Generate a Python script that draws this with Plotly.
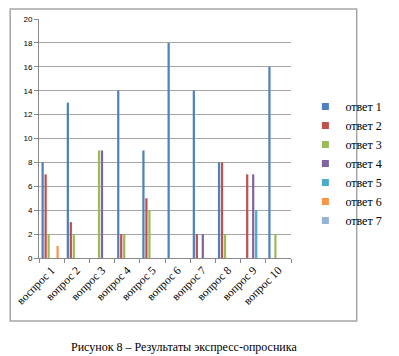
import plotly.graph_objects as go

categories = ["воспрос 1", "вопрос 2", "вопрос 3", "вопрос 4", "вопрос 5",
              "вопрос 6", "вопрос 7", "вопрос 8", "вопрос 9", "вопрос 10"]
series_names = ["ответ 1", "ответ 2", "ответ 3", "ответ 4", "ответ 5", "ответ 6", "ответ 7"]
otvet1 = [8, 13, 0, 14, 9, 18, 14, 8, 0, 16]
otvet2 = [7, 3, 0, 2, 5, 0, 2, 8, 7, 0]
otvet3 = [2, 2, 9, 2, 4, 0, 0, 2, 0, 2]
otvet4 = [0, 0, 9, 0, 0, 0, 2, 0, 7, 0]
otvet5 = [0, 0, 0, 0, 0, 0, 0, 0, 4, 0]
otvet6 = [1, 0, 0, 0, 0, 0, 0, 0, 0, 0]
otvet7 = [0, 0, 0, 0, 0, 0, 0, 0, 0, 0]
series_values = [otvet1, otvet2, otvet3, otvet4, otvet5, otvet6, otvet7]
colors = ["#4F81BD", "#C0504D", "#9BBB59", "#8064A2", "#4BACC6", "#F79646", "#95B3D7"]
y_ticks = [0, 2, 4, 6, 8, 10, 12, 14, 16, 18, 20]

fig = go.Figure()
for name, vals, col in zip(series_names, series_values, colors):
    fig.add_trace(go.Bar(x=categories, y=vals, name=name, marker_color=col,
                         marker_line_width=0, showlegend=False))
for name, col in zip(series_names, colors):
    fig.add_trace(go.Scatter(x=[None], y=[None], mode="markers", name=name,
                             marker=dict(symbol="square", size=7, color=col)))

W, H = 399, 356
L, R, T, B = 39, 80, 19, 98
pw, ph = W - L - R, H - T - B

def px(x):
    return (x - L) / pw

def py(y):
    return (H - B - y) / ph

fig.update_layout(
    width=W, height=H,
    margin=dict(l=L, r=R, t=T, b=B),
    paper_bgcolor="white", plot_bgcolor="white",
    barmode="group", bargap=0.17, bargroupgap=0.25,
    font=dict(family="Liberation Serif", color="black"),
    legend=dict(x=px(335), y=py(92), xanchor="left", yanchor="top",
                font=dict(family="Liberation Serif", size=12, color="black"),
                itemwidth=30, tracegroupgap=0, bgcolor="rgba(0,0,0,0)"),
    xaxis=dict(type="category", showgrid=False, showline=True, linecolor="#898989",
               linewidth=1, ticks="outside", tickson="boundaries", ticklen=4,
               tickcolor="#898989", tickangle=-45, automargin=False,
               tickfont=dict(family="Liberation Serif", size=11.5, color="black")),
    yaxis=dict(range=[0, 20], tickvals=y_ticks, showgrid=True, gridcolor="#A6A6A6",
               gridwidth=1, showline=True, linecolor="#898989", linewidth=1,
               ticks="outside", ticklen=4, tickcolor="#898989", zeroline=False,
               automargin=False,
               tickfont=dict(family="Liberation Sans", size=8, color="black")),
    shapes=[dict(type="rect", xref="paper", yref="paper",
                 x0=px(7), x1=px(392), y0=py(321), y1=py(9),
                 line=dict(color="#A6A6A6", width=1.5), fillcolor="rgba(0,0,0,0)",
                 layer="below")],
    annotations=[dict(text="Рисунок 8 – Результаты экспресс-опросника",
                      xref="paper", yref="paper", x=px(200), y=py(347),
                      xanchor="center", yanchor="middle", showarrow=False,
                      font=dict(family="Liberation Serif", size=12, color="black"))],
)

fig.write_html("out.html", config={"displayModeBar": False},
               post_script="document.body.style.margin='0';document.body.style.overflow='hidden';")
